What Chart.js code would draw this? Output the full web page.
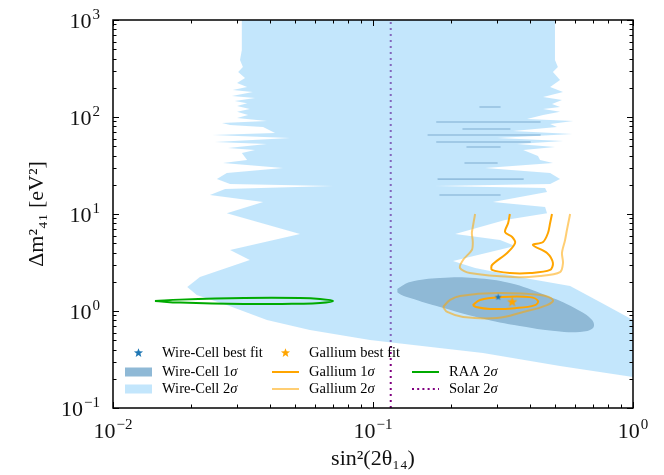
<!DOCTYPE html>
<html>
<head>
<meta charset="utf-8">
<script src="https://cdn.jsdelivr.net/npm/chart.js@4.4.0/dist/chart.umd.min.js"></script>
<style>
  body { margin: 0; background: #fff; }
  canvas { display: block; }
</style>
</head>
<body>
<canvas id="chart" width="664" height="475"></canvas>
<script>
// tick labels
const xTicks = [0.01, 0.1, 1];
const yTicks = [0.1, 1, 10, 100, 1000];

// Wire-Cell 2 sigma region (outline, clockwise from top left)
const wc2X = [0.0313, 0.501, 0.501, 0.514, 0.492, 0.524, 0.480, 0.538, 0.451, 0.533, 0.488, 0.524, 0.451, 0.524, 0.451,
  0.391, 0.588, 0.480, 0.510, 0.345, 0.583, 0.300, 0.538, 0.358, 0.501, 0.378, 0.431, 0.439, 0.492, 0.270, 0.480,
  0.524, 0.480, 0.173, 0.459, 0.467, 0.289, 0.459, 0.467, 0.322, 0.207, 0.308, 0.352, 0.203, 0.247, 0.402, 0.573, 0.746, 1.0,
  1.0, 0.524, 0.265, 0.0974, 0.0572, 0.0391, 0.0274,
  0.0210, 0.0193, 0.0216, 0.0336, 0.0282, 0.0524, 0.0274, 0.0378, 0.0236, 0.0270, 0.0702, 0.0282, 0.0251, 0.0274, 0.0451,
  0.0265, 0.0328, 0.0313, 0.0352, 0.0277, 0.0391, 0.0247, 0.0480, 0.0242, 0.0420, 0.0378, 0.0282, 0.0263, 0.0391,
  0.0300, 0.0331, 0.0300, 0.0336, 0.0300, 0.0328, 0.0294, 0.0352, 0.0287, 0.0345, 0.0289, 0.0328, 0.0300, 0.0322,
  0.0303, 0.0316, 0.0308, 0.0313, 0.0313];
const wc2Y = [1000, 1000, 387, 328, 291, 241, 204, 181, 161, 150, 136, 127, 121, 113, 105,
  95.3, 91.0, 84.7, 78.9, 71.7, 66.8, 60.8, 56.6, 52.7, 49.1, 45.7, 39.6, 36.0, 33.6, 29.8, 26.5,
  22.9, 20.4, 19.4, 18.5, 16.9, 13.3, 11.8, 10.2, 8.67, 6.22, 5.40, 4.68, 3.28, 2.78, 2.14, 1.81, 1.24, 0.808,
  0.209, 0.271, 0.369, 0.502, 0.637, 0.808, 1.153,
  1.46, 1.77, 2.24, 3.36, 4.26, 6.22, 10.2, 13.3, 15.7, 18.1, 19.4, 20.4, 22.9, 26.5, 29.8,
  33.6, 36.0, 42.5, 45.7, 47.9, 52.7, 55.2, 60.8, 65.2, 68.4, 78.9, 82.7, 86.7, 91.0,
  97.7, 105, 113, 121, 130, 139, 146, 157, 165, 181, 190, 204, 224, 252,
  291, 328, 387, 491, 1000];

// thin Wire-Cell 1 sigma islands at high mass
const sliverY = [127, 88.8, 75.2, 65.2, 55.2, 49.1, 33.6, 22.9, 15.7];
const sliverX0 = [0.258, 0.176, 0.222, 0.163, 0.176, 0.230, 0.226, 0.178, 0.181];
const sliverX1 = [0.308, 0.439, 0.336, 0.439, 0.402, 0.308, 0.300, 0.378, 0.308];

// Wire-Cell 1 sigma main island
const wc1X = [0.124, 0.139, 0.181, 0.247, 0.336, 0.459, 0.598, 0.696, 0.702, 0.625, 0.501, 0.367, 0.258, 0.181, 0.139, 0.125];
const wc1Y = [1.69, 1.99, 2.19, 2.19, 1.94, 1.46, 1.07, 0.808, 0.668, 0.608, 0.622, 0.700, 0.847, 1.10, 1.36, 1.53];

// Gallium contours
const gal2LoX = [0.186, 0.198, 0.216, 0.300, 0.439, 0.492, 0.467, 0.378, 0.300, 0.222, 0.193];
const gal2LoY = [1.10, 1.30, 1.43, 1.53, 1.46, 1.30, 1.15, 0.977, 0.847, 0.867, 0.977];
const gal1LoX = [0.242, 0.258, 0.308, 0.402, 0.431, 0.420, 0.352, 0.282, 0.249];
const gal1LoY = [1.15, 1.30, 1.39, 1.39, 1.27, 1.15, 1.07, 1.05, 1.10];
const gal2UpX = [0.247, 0.242, 0.240, 0.242, 0.240, 0.222, 0.216, 0.236, 0.345, 0.439, 0.524, 0.538, 0.533, 0.548, 0.557, 0.573];
const gal2UpY = [10.0, 7.34, 6.37, 5.15, 4.26, 3.36, 2.78, 2.46, 2.24, 2.30, 2.52, 3.13, 3.96, 5.40, 6.84, 10.0];
const gal1UpX = [0.336, 0.331, 0.322, 0.343, 0.352, 0.328, 0.287, 0.287, 0.336, 0.402, 0.480, 0.492, 0.467, 0.412, 0.451, 0.471, 0.480, 0.488];
const gal1UpY = [10.0, 8.08, 6.52, 5.79, 5.02, 3.96, 2.98, 2.65, 2.46, 2.46, 2.65, 3.13, 3.96, 4.79, 5.15, 6.37, 8.08, 10.0];

// RAA 2 sigma
const raaX = [0.0145, 0.0181, 0.0319, 0.0524, 0.0625, 0.0702, 0.0625, 0.0524, 0.0319, 0.0181];
const raaY = [1.27, 1.31, 1.36, 1.36, 1.33, 1.27, 1.21, 1.19, 1.18, 1.22];

// Solar 2 sigma bound and best fits
const solarX = 0.117;
const solarY = [0.1, 1000];
const wcBest = [0.303, 1.39];
const galBest = [0.343, 1.24];

const WC_BLUE = '#1f77b4';
const ORANGE = '#ffa500';
const GAL2 = 'rgba(255,165,0,0.55)';
const GREEN = '#00aa00';
const PURPLE = '#800080';
const WC2_FILL = 'rgba(135,206,250,0.5)';
const WC1_FILL = 'rgb(143,185,214)';
const SLIVER = 'rgba(110,160,200,0.55)';
const FONT = '"Liberation Serif", "Times New Roman", serif';

function pts(xs, ys, close) {
    const p = xs.map((x, i) => ({x: x, y: ys[i]}));
    if (close) p.push({x: xs[0], y: ys[0]});
    return p;
}

function drawStar(g, cx, cy, r, color) {
    g.beginPath();
    for (let i = 0; i < 10; i++) {
        const a = -Math.PI / 2 + i * Math.PI / 5;
        const rr = i % 2 ? r * 0.42 : r;
        g.lineTo(cx + rr * Math.cos(a), cy + rr * Math.sin(a));
    }
    g.closePath();
    g.fillStyle = color;
    g.fill();
}

function starCanvas(r, color) {
    const c = document.createElement('canvas');
    c.width = c.height = Math.ceil(r * 2 + 2);
    drawStar(c.getContext('2d'), c.width / 2, c.height / 2, r, color);
    return c;
}

// "10" with a raised exponent, anchored at (x, baseline)
function drawPow(ctx, v, x, y, align) {
    const n = Math.round(Math.log10(v));
    const exp = n < 0 ? '\u2212' + (-n) : String(n);
    ctx.font = '22px ' + FONT;
    const wb = ctx.measureText('10').width;
    ctx.font = '15px ' + FONT;
    const we = ctx.measureText(exp).width;
    const total = wb + 1 + we;
    const x0 = align === 'right' ? x - total : x - total / 2;
    ctx.font = '22px ' + FONT;
    ctx.fillText('10', x0, y);
    ctx.font = '15px ' + FONT;
    ctx.fillText(exp, x0 + wb + 1, y - 9);
}

function shape(data, color, order) {
    return {data: data, showLine: true, fill: 'shape', backgroundColor: color,
        borderColor: 'rgba(0,0,0,0)', borderWidth: 0, pointRadius: 0, order: order};
}

function curve(data, color, width, order, tension) {
    return {data: data, showLine: true, fill: false, borderColor: color, borderWidth: width,
        pointRadius: 0, tension: tension, order: order};
}

const datasets = [];
datasets.push(Object.assign(curve(solarY.map(y => ({x: solarX, y: y})), PURPLE, 2, 90, 0), {borderDash: [2, 4]}));
datasets.push(shape(pts(wc2X, wc2Y, true), WC2_FILL, 80));
sliverY.forEach((y, i) => {
    datasets.push(Object.assign(curve([{x: sliverX0[i], y: y}, {x: sliverX1[i], y: y}], SLIVER, 1.6, 70, 0),
        {borderCapStyle: 'round'}));
});
datasets.push(Object.assign(shape(pts(wc1X, wc1Y, true), WC1_FILL, 60), {tension: 0.4}));
datasets.push(curve(pts(raaX, raaY, true), GREEN, 2, 50, 0.4));
datasets.push(curve(pts(gal2LoX, gal2LoY, true), GAL2, 2, 40, 0.4));
datasets.push(curve(pts(gal2UpX, gal2UpY), GAL2, 2, 40, 0.3));
datasets.push(curve(pts(gal1LoX, gal1LoY, true), ORANGE, 2, 30, 0.4));
datasets.push(curve(pts(gal1UpX, gal1UpY), ORANGE, 2, 30, 0.3));
datasets.push({data: [{x: wcBest[0], y: wcBest[1]}], pointStyle: starCanvas(3.5, WC_BLUE), pointRadius: 4, order: 20});
datasets.push({data: [{x: galBest[0], y: galBest[1]}], pointStyle: starCanvas(5.5, ORANGE), pointRadius: 5, order: 10});

const legendItems = [
    {col: 0, row: 0, kind: 'star', color: WC_BLUE, text: 'Wire-Cell best fit', sig: ''},
    {col: 1, row: 0, kind: 'star', color: ORANGE, text: 'Gallium best fit', sig: ''},
    {col: 0, row: 1, kind: 'box', color: WC1_FILL, text: 'Wire-Cell 1', sig: '\u03C3'},
    {col: 1, row: 1, kind: 'line', color: ORANGE, text: 'Gallium 1', sig: '\u03C3'},
    {col: 2, row: 1, kind: 'line', color: GREEN, text: 'RAA 2', sig: '\u03C3'},
    {col: 0, row: 2, kind: 'box', color: WC2_FILL, text: 'Wire-Cell 2', sig: '\u03C3'},
    {col: 1, row: 2, kind: 'line', color: GAL2, text: 'Gallium 2', sig: '\u03C3'},
    {col: 2, row: 2, kind: 'dots', color: PURPLE, text: 'Solar 2', sig: '\u03C3'}
];

const framePlugin = {
    id: 'frame',
    afterDatasetsDraw(chart) {
        const {ctx, chartArea: a, scales: {x, y}} = chart;
        ctx.save();
        ctx.strokeStyle = '#000';
        ctx.lineWidth = 1;
        const seg = (x0, y0, x1, y1) => { ctx.beginPath(); ctx.moveTo(x0, y0); ctx.lineTo(x1, y1); ctx.stroke(); };
        for (let d = -2; d < 0; d++) {
            for (let m = 1; m <= 10; m++) {
                const px = Math.round(x.getPixelForValue(m * Math.pow(10, d))) + 0.5;
                const len = (m === 1 || m === 10) ? 6 : 3.5;
                seg(px, a.bottom, px, a.bottom - len);
                seg(px, a.top, px, a.top + len);
            }
        }
        for (let d = -1; d < 3; d++) {
            for (let m = 1; m <= 10; m++) {
                const py = Math.round(y.getPixelForValue(m * Math.pow(10, d))) + 0.5;
                const len = (m === 1 || m === 10) ? 6 : 3.5;
                seg(a.left, py, a.left + len, py);
                seg(a.right, py, a.right - len, py);
            }
        }
        ctx.lineWidth = 1.5;
        ctx.strokeRect(a.left, a.top, a.right - a.left, a.bottom - a.top);
        ctx.restore();
    },
    afterDraw(chart) {
        const {ctx, chartArea: a, scales: {x, y}} = chart;
        ctx.save();
        ctx.fillStyle = '#111';
        ctx.textAlign = 'left';
        ctx.textBaseline = 'alphabetic';
        x.ticks.forEach(t => drawPow(ctx, t.value, x.getPixelForValue(t.value), a.bottom + 30, 'center'));
        y.ticks.forEach(t => drawPow(ctx, t.value, a.left - 13, y.getPixelForValue(t.value) + 8, 'right'));

        const colX = [a.left + 12, a.left + 159, a.left + 299];
        const rowY = [a.bottom - 55, a.bottom - 36, a.bottom - 19];
        ctx.textBaseline = 'middle';
        legendItems.forEach(it => {
            const mx = colX[it.col], my = rowY[it.row];
            if (it.kind === 'star') {
                drawStar(ctx, mx + 13.5, my, 4.8, it.color);
            } else if (it.kind === 'box') {
                ctx.fillStyle = it.color;
                ctx.fillRect(mx, my - 4.5, 27, 9);
            } else {
                ctx.strokeStyle = it.color;
                ctx.lineWidth = 2;
                ctx.setLineDash(it.kind === 'dots' ? [2, 3.2] : []);
                ctx.beginPath();
                ctx.moveTo(mx, my);
                ctx.lineTo(mx + 27, my);
                ctx.stroke();
                ctx.setLineDash([]);
            }
            ctx.fillStyle = '#000';
            ctx.font = '14.5px ' + FONT;
            ctx.fillText(it.text, mx + 37, my);
            if (it.sig) {
                const w = ctx.measureText(it.text).width;
                ctx.font = 'italic 14.5px ' + FONT;
                ctx.fillText(it.sig, mx + 37 + w, my);
            }
        });
        ctx.restore();
    }
};

new Chart(document.getElementById('chart'), {
    type: 'scatter',
    data: {datasets: datasets},
    options: {
        responsive: false,
        animation: false,
        devicePixelRatio: 1,
        layout: {padding: {left: 0, right: 31, top: 20, bottom: 0}},
        plugins: {legend: {display: false}, tooltip: {enabled: false}},
        scales: {
            x: {
                type: 'logarithmic',
                min: 0.01,
                max: 1,
                afterBuildTicks: s => { s.ticks = xTicks.map(v => ({value: v})); },
                afterFit: s => { s.height = 67; },
                grid: {display: false},
                border: {display: false},
                ticks: {display: false},
                title: {display: true, text: 'sin\u00B2(2\u03B8\u2081\u2084)', font: {family: FONT, size: 22},
                    color: '#111', padding: {top: 0, bottom: 3}}
            },
            y: {
                type: 'logarithmic',
                min: 0.1,
                max: 1000,
                afterBuildTicks: s => { s.ticks = yTicks.map(v => ({value: v})); },
                afterFit: s => { s.width = 113; },
                grid: {display: false},
                border: {display: false},
                ticks: {display: false},
                title: {display: true, text: '\u0394m\u00B2\u2084\u2081 [eV\u00B2]', font: {family: FONT, size: 22},
                    color: '#111', padding: {top: 24, bottom: 0}}
            }
        }
    },
    plugins: [framePlugin]
});
</script>
</body>
</html>
